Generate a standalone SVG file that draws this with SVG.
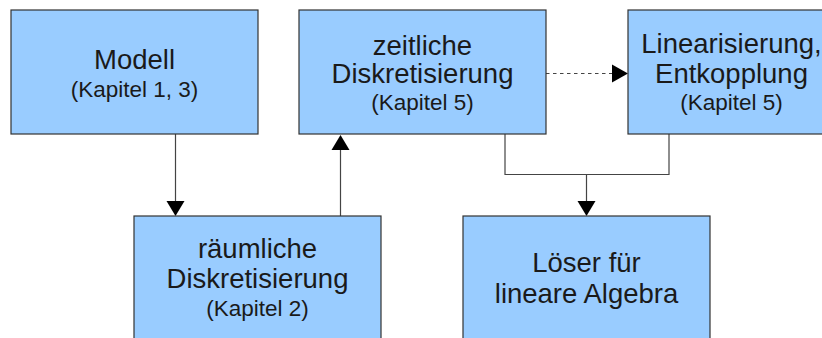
<svg xmlns="http://www.w3.org/2000/svg" width="822" height="338" viewBox="0 0 822 338">
<style>
.box{fill:#99ccff;stroke:#333333;stroke-width:1.2}
.t{font-family:"Liberation Sans",Arial,sans-serif;fill:#1a1a1a;text-anchor:middle}
.big{font-size:27.5px}
.small{font-size:22.5px}
.ln{fill:none;stroke:#444444;stroke-width:1.2}
.dash{stroke-dasharray:3.5,3.5}
.ah{fill:#000000}
</style>
<rect width="822" height="338" fill="#ffffff"/>
<g id="connectors">
<path class="ln" d="M175.5,134 V202"/>
<polygon class="ah" points="166.5,201 184.5,201 175.5,216"/>
<path class="ln" d="M340.5,216 V149"/>
<polygon class="ah" points="331.5,150 349.5,150 340.5,135"/>
<path class="ln" d="M505,134 V174.5 H669 V134 M586.5,174.5 V202"/>
<polygon class="ah" points="577.5,201 595.5,201 586.5,216"/>
<path class="ln dash" d="M546,73.5 H613"/>
<polygon class="ah" points="612,64.5 612,82.5 628,73.5"/>
</g>
<g id="modell">
<rect class="box" x="11" y="10" width="247" height="124"/>
<text class="t big" x="134.5" y="69">Modell</text>
<text class="t small" x="134.5" y="97">(Kapitel 1, 3)</text>
</g>
<g id="zeitliche">
<rect class="box" x="299" y="10" width="247" height="124"/>
<text class="t big" x="422.5" y="55">zeitliche</text>
<text class="t big" x="422.5" y="83">Diskretisierung</text>
<text class="t small" x="422.5" y="110">(Kapitel 5)</text>
</g>
<g id="linearisierung">
<rect class="box" x="628" y="10" width="210" height="124"/>
<text class="t big" x="731.5" y="53">Linearisierung,</text>
<text class="t big" x="731.5" y="83">Entkopplung</text>
<text class="t small" x="731.5" y="110">(Kapitel 5)</text>
</g>
<g id="raeumliche">
<rect class="box" x="134" y="216" width="247" height="140"/>
<text class="t big" x="257.5" y="258">räumliche</text>
<text class="t big" x="257.5" y="288">Diskretisierung</text>
<text class="t small" x="257.5" y="316">(Kapitel 2)</text>
</g>
<g id="loeser">
<rect class="box" x="463" y="216" width="247" height="140"/>
<text class="t big" x="586.5" y="272">Löser für</text>
<text class="t big" x="586.5" y="303">lineare Algebra</text>
</g>
</svg>
